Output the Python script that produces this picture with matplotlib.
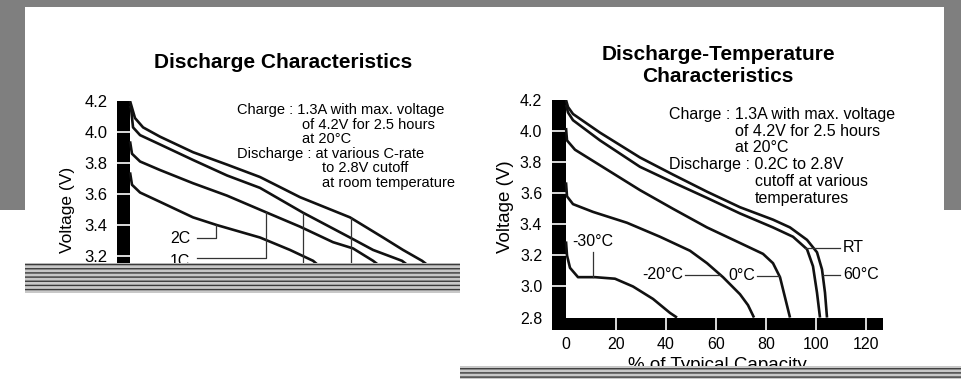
import numpy as np
import matplotlib
matplotlib.use('Agg')
import matplotlib.pyplot as plt
from matplotlib.patches import Rectangle

plt.rcParams['font.family'] = ['Liberation Sans', 'DejaVu Sans']
plt.rcParams['hatch.linewidth'] = 1.0

W, H = 962, 379

# left chart: discharge at various C-rates (capacity mAh, voltage V)
cap_02c = [0, 43, 113, 260, 546, 841, 1127, 1474, 1907, 2194, 2367, 2532, 2618]
v_02c = [4.20, 4.09, 4.03, 3.97, 3.87, 3.79, 3.71, 3.58, 3.45, 3.32, 3.24, 3.17, 3.12]
cap_05c = [0, 9, 26, 87, 260, 546, 841, 1127, 1500, 1907, 2107, 2358, 2445]
v_05c = [4.17, 4.15, 4.03, 3.98, 3.92, 3.82, 3.72, 3.64, 3.48, 3.32, 3.24, 3.17, 3.12]
cap_1c = [0, 17, 87, 260, 546, 841, 1188, 1474, 1760, 1933, 2107, 2194]
v_1c = [3.94, 3.86, 3.81, 3.755, 3.67, 3.59, 3.48, 3.39, 3.29, 3.25, 3.17, 3.12]
cap_2c = [0, 17, 87, 260, 546, 754, 1127, 1387, 1587, 1665]
v_2c = [3.74, 3.66, 3.61, 3.55, 3.45, 3.40, 3.32, 3.24, 3.17, 3.12]
left_yticks = [3.2, 3.4, 3.6, 3.8, 4.0, 4.2]

# right chart: discharge at various temperatures (% of capacity, voltage V)
pct_60 = [0, 0.8, 2.8, 13.6, 29.6, 42.8, 56.4, 69.6, 82.8, 89.6, 96.4, 100.4, 102.4, 103.6, 104.4]
v_60 = [4.20, 4.155, 4.11, 3.99, 3.83, 3.72, 3.61, 3.51, 3.43, 3.38, 3.30, 3.22, 3.11, 2.96, 2.80]
pct_rt = [0, 0.8, 2.8, 13.6, 29.6, 42.8, 56.4, 69.6, 82.8, 90.8, 96.4, 98.8, 100.4, 101.6]
v_rt = [4.17, 4.12, 4.07, 3.94, 3.77, 3.67, 3.57, 3.47, 3.38, 3.32, 3.24, 3.13, 2.96, 2.80]
pct_0 = [0, 0.4, 3.6, 13.6, 29.6, 42.8, 56.4, 69.6, 78.8, 82.8, 85.6, 87.6, 89.6]
v_0 = [4.02, 3.94, 3.88, 3.78, 3.62, 3.50, 3.38, 3.28, 3.21, 3.15, 3.06, 2.93, 2.80]
pct_m20 = [0, 0.4, 2.8, 10.8, 24.4, 37.6, 49.6, 56.4, 62.8, 69.6, 72.8, 75.2]
v_m20 = [3.67, 3.58, 3.53, 3.48, 3.41, 3.32, 3.23, 3.15, 3.06, 2.95, 2.88, 2.80]
pct_m30 = [0, 0.4, 1.6, 4.8, 11.6, 19.6, 26.8, 34.8, 41.6, 44.4]
v_m30 = [3.29, 3.20, 3.12, 3.06, 3.06, 3.05, 3.00, 2.92, 2.83, 2.80]
right_xticks = [0, 20, 40, 60, 80, 100, 120]
right_yticks = [2.8, 3.0, 3.2, 3.4, 3.6, 3.8, 4.0, 4.2]

left_notes = ['Charge : 1.3A with max. voltage', 'of 4.2V for 2.5 hours', 'at 20°C',
              'Discharge : at various C-rate', 'to 2.8V cutoff', 'at room temperature']
right_notes = ['Charge : 1.3A with max. voltage', 'of 4.2V for 2.5 hours', 'at 20°C',
               'Discharge : 0.2C to 2.8V', 'cutoff at various', 'temperatures']

LW = 1.9
FG = '#111111'
LEAD = '#333333'


def fpos(x, y):
    return x / W, 1 - y / H


def at_volt(v, xs, vs):
    # x position where a curve reaches voltage v
    return np.interp(v, vs[::-1], xs[::-1])


fig = plt.figure(figsize=(W / 100, H / 100), dpi=100, facecolor='white')

# scan frame
gray = '#7f7f7f'
for r in [(0, H - 7, W, 7), (0, H - 210, 25, 210), (944, H - 210, W - 944, 210)]:
    fig.add_artist(Rectangle((r[0] / W, r[1] / H), r[2] / W, r[3] / H,
                             transform=fig.transFigure, color=gray, lw=0, zorder=-1))

# ---------- left chart ----------
axl = fig.add_axes([117 / W, 1 - 267 / H, 343 / W, 166 / H])
axl.set_xlim(-113, 2861)
axl.set_ylim(3.13, 4.2)
for s in axl.spines.values():
    s.set_visible(False)
axl.axvspan(-113, 0, color='black', lw=0)
axl.hlines(left_yticks[:-1], -113, 0, color='white', lw=1.2)
for xs, vs in [(cap_02c, v_02c), (cap_05c, v_05c), (cap_1c, v_1c), (cap_2c, v_2c)]:
    axl.plot(xs, vs, color=FG, lw=LW, solid_joinstyle='round', solid_capstyle='butt')
axl.set_xticks([])
axl.set_yticks(left_yticks)
axl.set_yticklabels(['%.1f' % t for t in left_yticks])
axl.tick_params(axis='y', length=0, pad=7, labelsize=12)
axl.set_ylabel('Voltage (V)', fontsize=12.5, va='center')
axl.yaxis.set_label_coords(-0.143, 0.343)

# leaders
x2 = 746
axl.plot([581, x2, x2], [3.316, 3.316, np.interp(x2, cap_2c, v_2c)], color=LEAD, lw=0.9)
x1 = 1179
axl.plot([581, x1, x1], [3.187, 3.187, np.interp(x1, cap_1c, v_1c)], color=LEAD, lw=0.9)
axl.plot([1500, 1500], [np.interp(1500, cap_05c, v_05c), 3.0], color=LEAD, lw=0.9)
axl.plot([1916, 1916], [np.interp(1916, cap_02c, v_02c), 3.0], color=LEAD, lw=0.9)
axl.text(434, 3.316, '2C', ha='center', va='center', fontsize=11.5)
axl.text(434, 3.165, '1C', ha='center', va='center', fontsize=11.5, clip_on=False)

fig.text(*fpos(283, 62), 'Discharge Characteristics', ha='center', va='center',
         fontsize=15, fontweight='bold')
for s, (x, y) in zip(left_notes, [(237, 110), (302, 125), (302, 139),
                                  (237, 154), (322, 168), (322, 183)]):
    fig.text(*fpos(x, y), s, ha='left', va='center', fontsize=10.5)

# ---------- right chart ----------
axr = fig.add_axes([552 / W, 1 - 330 / H, 331 / W, 230 / H])
axr.set_xlim(-5.6, 126.8)
axr.set_ylim(2.72, 4.2)
for s in axr.spines.values():
    s.set_visible(False)
axr.axvspan(-5.6, 0, color='black', lw=0)
axr.axhspan(2.72, 2.8, color='black', lw=0)
axr.hlines(right_yticks[1:-1], -5.6, 0, color='white', lw=1.2)
axr.vlines(right_xticks[1:], 2.72, 2.8, color='white', lw=1.2)
curves = {'60': (pct_60, v_60), 'RT': (pct_rt, v_rt), '0': (pct_0, v_0),
          '-20': (pct_m20, v_m20), '-30': (pct_m30, v_m30)}
for xs, vs in curves.values():
    axr.plot(xs, vs, color=FG, lw=LW, solid_joinstyle='round', solid_capstyle='butt')
axr.set_xticks(right_xticks)
axr.set_yticks(right_yticks)
axr.set_yticklabels(['%.1f' % t for t in right_yticks])
axr.tick_params(length=0, labelsize=11.5)
axr.tick_params(axis='y', pad=7)
axr.tick_params(axis='x', pad=5)
axr.set_ylabel('Voltage (V)', fontsize=13.5, va='center')
axr.yaxis.set_label_coords(-0.139, 0.535)
axr.set_xlabel('% of Typical Capacity', fontsize=13.5, va='center')
axr.xaxis.set_label_coords(0.5, -0.155)

# leaders and labels
xa = at_volt(3.25, *curves['RT'])
axr.plot([xa, 109.6], [3.25, 3.25], color=LEAD, lw=0.9)
axr.text(110.8, 3.25, 'RT', ha='left', va='center', fontsize=11.5)
xa = at_volt(3.076, *curves['60'])
axr.plot([xa, 109.6], [3.076, 3.076], color=LEAD, lw=0.9)
axr.text(110.8, 3.076, '60°C', ha='left', va='center', fontsize=11.5)
xa = at_volt(3.07, *curves['0'])
axr.plot([76.4, xa], [3.07, 3.07], color=LEAD, lw=0.9)
axr.text(75.6, 3.07, '0°C', ha='right', va='center', fontsize=11.5)
xa = at_volt(3.076, *curves['-20'])
axr.plot([47.6, xa], [3.076, 3.076], color=LEAD, lw=0.9)
axr.text(46.8, 3.076, '-20°C', ha='right', va='center', fontsize=11.5)
axr.plot([10.8, 10.8], [3.22, np.interp(10.8, pct_m30, v_m30)], color=LEAD, lw=0.9)
axr.text(10.8, 3.29, '-30°C', ha='center', va='center', fontsize=11.5)

fig.text(*fpos(718, 54), 'Discharge-Temperature', ha='center', va='center',
         fontsize=15, fontweight='bold')
fig.text(*fpos(718, 76), 'Characteristics', ha='center', va='center',
         fontsize=15, fontweight='bold')
for s, (x, y) in zip(right_notes, [(669, 115), (735, 132), (735, 148),
                                   (669, 165), (755, 182), (755, 198)]):
    fig.text(*fpos(x, y), s, ha='left', va='center', fontsize=11.5)

# damaged scan strips
for r in [(25, H - 293, 435, 30), (460, H - 379, W - 460, 13)]:
    fig.add_artist(Rectangle((r[0] / W, r[1] / H), r[2] / W, r[3] / H,
                             transform=fig.transFigure, facecolor='#c8c8c8',
                             edgecolor='#3a3a3a', hatch='----', lw=0, zorder=5))

fig.savefig('out.png', dpi=100, facecolor='white')
